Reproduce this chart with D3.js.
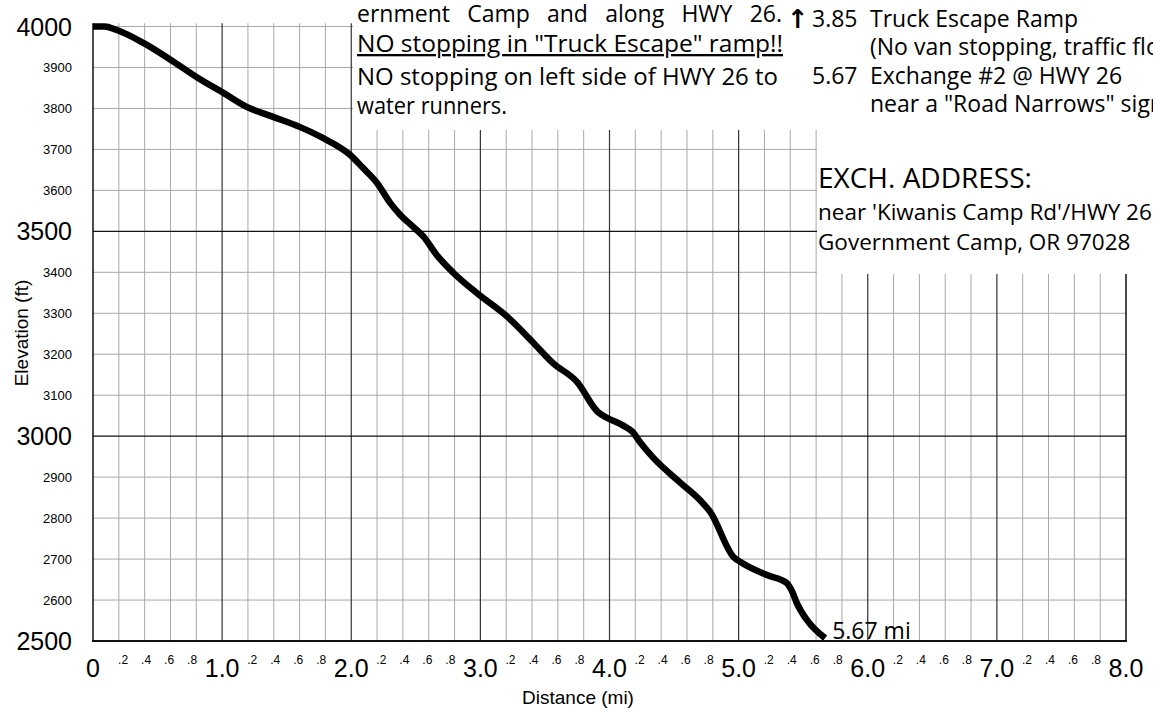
<!DOCTYPE html>
<html>
<head>
<meta charset="utf-8">
<script src="https://cdn.jsdelivr.net/npm/d3@7"></script>
<style>
  body { margin: 0; background: #fff; }
  svg { display: block; }
</style>
</head>
<body>
<svg id="canvas" width="1153" height="709"></svg>
<script>
// elevation profile: distance in miles, elevation in feet
let distances  = [0, 0.09, 0.18, 0.39, 0.60, 0.81, 1.01, 1.19, 1.39, 1.60, 1.78, 1.99,
                  2.09, 2.20, 2.30, 2.38, 2.48, 2.56, 2.66, 2.79, 2.97, 3.21, 3.41,
                  3.56, 3.75, 3.91, 3.98, 4.10, 4.18, 4.24, 4.34, 4.55, 4.70, 4.78, 4.96,
                  5.03, 5.22, 5.37, 5.42, 5.45, 5.53, 5.67];
let elevations = [4000, 4000, 3992, 3960, 3919, 3875, 3838, 3804, 3780, 3755, 3728, 3687,
                  3655, 3618, 3570, 3540, 3511, 3487, 3443, 3399, 3350, 3291, 3228,
                  3179, 3132, 3059, 3045, 3027, 3010, 2984, 2947, 2886, 2844, 2815, 2705,
                  2690, 2661, 2642, 2617, 2593, 2551, 2507];

// tick values and labels
let yMajorTicks  = [2500, 3000, 3500, 4000];
let yMinorTicks  = [2600, 2700, 2800, 2900, 3100, 3200, 3300, 3400, 3600, 3700, 3800, 3900];
let xMajorTicks  = [0, 1, 2, 3, 4, 5, 6, 7, 8];
let xMajorLabels = ['0', '1.0', '2.0', '3.0', '4.0', '5.0', '6.0', '7.0', '8.0'];
let xMinorLabels = ['.2', '.4', '.6', '.8'];
let endLabel = '5.67 mi';

// notes printed over the top of the grid
let notesLeft = [
    'ernment Camp and along HWY 26.',
    'NO stopping in "Truck Escape" ramp!!',
    'NO stopping on left side of HWY 26 to',
    'water runners.'
];
let notesMiles = ['3.85', '', '5.67', ''];
let notesRight = [
    'Truck Escape Ramp',
    '(No van stopping, traffic flow)',
    'Exchange #2 @ HWY 26',
    'near a "Road Narrows" sign'
];
let addressTitle = 'EXCH. ADDRESS:';
let addressLines = ["near 'Kiwanis Camp Rd'/HWY 26", 'Government Camp, OR 97028'];

let canvas = d3.select('#canvas');
let axisFont = '"Liberation Sans", Arial, sans-serif';
let noteFont = '"Open Sans", "Noto Sans", sans-serif';

let x = d3.scaleLinear().domain([0, 8]).range([93, 1126]);
let y = d3.scaleLinear().domain([2500, 4000]).range([641, 26.5]);

// thin grey grid, every 0.2 mi and every 100 ft
let minorX = d3.range(1, 40).map(i => i / 5).filter(d => Math.abs(d - Math.round(d)) > 0.01);
let grid = canvas.append('g');
grid.selectAll('.vminor')
    .data(minorX)
    .enter()
    .append('line')
    .attr('x1', d => x(d)).attr('x2', d => x(d))
    .attr('y1', y(4008)).attr('y2', y(2500))
    .attr('stroke', '#a8a8a8').attr('stroke-width', 1);
grid.selectAll('.hminor')
    .data(yMinorTicks.concat([4000]))
    .enter()
    .append('line')
    .attr('x1', x(0)).attr('x2', x(8))
    .attr('y1', d => y(d)).attr('y2', d => y(d))
    .attr('stroke', '#a8a8a8').attr('stroke-width', 1);

// darker lines every mile and every 500 ft
grid.selectAll('.vmajor')
    .data(xMajorTicks.slice(1, 8))
    .enter()
    .append('line')
    .attr('x1', d => x(d)).attr('x2', d => x(d))
    .attr('y1', y(4008)).attr('y2', y(2500))
    .attr('stroke', '#333').attr('stroke-width', 1.2);
grid.selectAll('.hmajor')
    .data([3000, 3500])
    .enter()
    .append('line')
    .attr('x1', x(0)).attr('x2', x(8))
    .attr('y1', d => y(d)).attr('y2', d => y(d))
    .attr('stroke', '#111').attr('stroke-width', 1.3);

// frame: left, right and bottom
grid.append('line').attr('x1', x(0)).attr('x2', x(0)).attr('y1', y(4008)).attr('y2', y(2500))
    .attr('stroke', '#111').attr('stroke-width', 1.5);
grid.append('line').attr('x1', x(8)).attr('x2', x(8)).attr('y1', y(4008)).attr('y2', y(2500))
    .attr('stroke', '#111').attr('stroke-width', 1.5);
grid.append('line').attr('x1', x(0) - 1).attr('x2', x(8) + 1).attr('y1', y(2500)).attr('y2', y(2500))
    .attr('stroke', '#111').attr('stroke-width', 2);

// y tick labels
canvas.selectAll('.ymajor')
    .data(yMajorTicks)
    .enter()
    .append('text')
    .attr('x', 72).attr('y', d => y(d)).attr('dy', '0.36em')
    .attr('text-anchor', 'end')
    .attr('font-family', axisFont).attr('font-size', 25)
    .text(d => d);
canvas.selectAll('.yminor')
    .data(yMinorTicks)
    .enter()
    .append('text')
    .attr('x', 72).attr('y', d => y(d)).attr('dy', '0.36em')
    .attr('text-anchor', 'end')
    .attr('font-family', axisFont).attr('font-size', 13)
    .text(d => d);

// x tick labels, the small ones are spread inside each mile
canvas.selectAll('.xmajor')
    .data(xMajorTicks)
    .enter()
    .append('text')
    .attr('x', d => x(d)).attr('y', 677)
    .attr('text-anchor', 'middle')
    .attr('font-family', axisFont).attr('font-size', 25)
    .text((d, i) => xMajorLabels[i]);
let minorSlots = [];
xMajorTicks.slice(0, 8).forEach(m => xMinorLabels.forEach((lab, k) => minorSlots.push({ m: m, k: k, lab: lab })));
canvas.selectAll('.xminor')
    .data(minorSlots)
    .enter()
    .append('text')
    .attr('x', d => x(d.m + 0.5) + (d.k - 1.5) * 23).attr('y', 664)
    .attr('text-anchor', 'middle')
    .attr('font-family', axisFont).attr('font-size', 12)
    .text(d => d.lab);

// axis titles
canvas.append('text')
    .attr('transform', 'translate(28,333) rotate(-90)')
    .attr('text-anchor', 'middle')
    .attr('font-family', axisFont).attr('font-size', 19)
    .text('Elevation (ft)');
canvas.append('text')
    .attr('x', 578).attr('y', 704)
    .attr('text-anchor', 'middle')
    .attr('font-family', axisFont).attr('font-size', 19)
    .text('Distance (mi)');

// white note boxes covering the top of the grid
canvas.append('rect').attr('x', 353).attr('y', 0).attr('width', 800).attr('height', 130).attr('fill', '#fff');
canvas.append('rect').attr('x', 817).attr('y', 0).attr('width', 336).attr('height', 274).attr('fill', '#fff');

let leftBase = [22, 52, 85, 114];
let leftWidth = [null, 426, 421, 150];
let leftNotes = canvas.selectAll('.noteL')
    .data(notesLeft)
    .enter()
    .append('text')
    .attr('x', 357).attr('y', (d, i) => leftBase[i])
    .attr('font-family', noteFont).attr('font-size', 23)
    .attr('textLength', (d, i) => leftWidth[i])
    .attr('lengthAdjust', 'spacingAndGlyphs')
    .style('text-decoration', (d, i) => i == 1 ? 'underline' : 'none')
    .text(d => d);
// first line is justified, so stretch only the gaps between words
leftNotes.filter((d, i) => i == 0).each(function (d) {
    let natural = this.getComputedTextLength();
    let gaps = d.split(' ').length - 1;
    d3.select(this).attr('word-spacing', Math.max(0, (425 - natural) / gaps));
});

let rightBase = [27, 55, 84, 112];
canvas.append('text')
    .attr('x', 787).attr('y', rightBase[0] + 1)
    .attr('font-family', '"DejaVu Sans", sans-serif').attr('font-size', 26).attr('font-weight', 'bold')
    .text('\u2191');
canvas.selectAll('.noteM')
    .data(notesMiles)
    .enter()
    .append('text')
    .attr('x', 812).attr('y', (d, i) => rightBase[i])
    .attr('font-family', noteFont).attr('font-size', 23)
    .text(d => d);
canvas.selectAll('.noteR')
    .data(notesRight)
    .enter()
    .append('text')
    .attr('x', 870).attr('y', (d, i) => rightBase[i])
    .attr('font-family', noteFont).attr('font-size', 23)
    .text(d => d);

canvas.append('text')
    .attr('x', 818).attr('y', 188)
    .attr('font-family', noteFont).attr('font-size', 28)
    .text(addressTitle);
canvas.selectAll('.addr')
    .data(addressLines)
    .enter()
    .append('text')
    .attr('x', 818).attr('y', (d, i) => 220 + i * 30)
    .attr('font-family', noteFont).attr('font-size', 22.5)
    .text(d => d);

// the profile itself
let profile = distances.map((d, i) => [d, elevations[i]]);
let line = d3.line()
    .x(p => x(p[0]))
    .y(p => y(p[1]))
    .curve(d3.curveMonotoneX);
canvas.append('path')
    .datum(profile)
    .attr('d', line)
    .attr('fill', 'none')
    .attr('stroke', '#000')
    .attr('stroke-width', 6.5)
    .attr('stroke-linejoin', 'round');

canvas.append('text')
    .attr('x', x(5.67) + 7).attr('y', 639)
    .attr('font-family', noteFont).attr('font-size', 23)
    .text(endLabel);
</script>
</body>
</html>
